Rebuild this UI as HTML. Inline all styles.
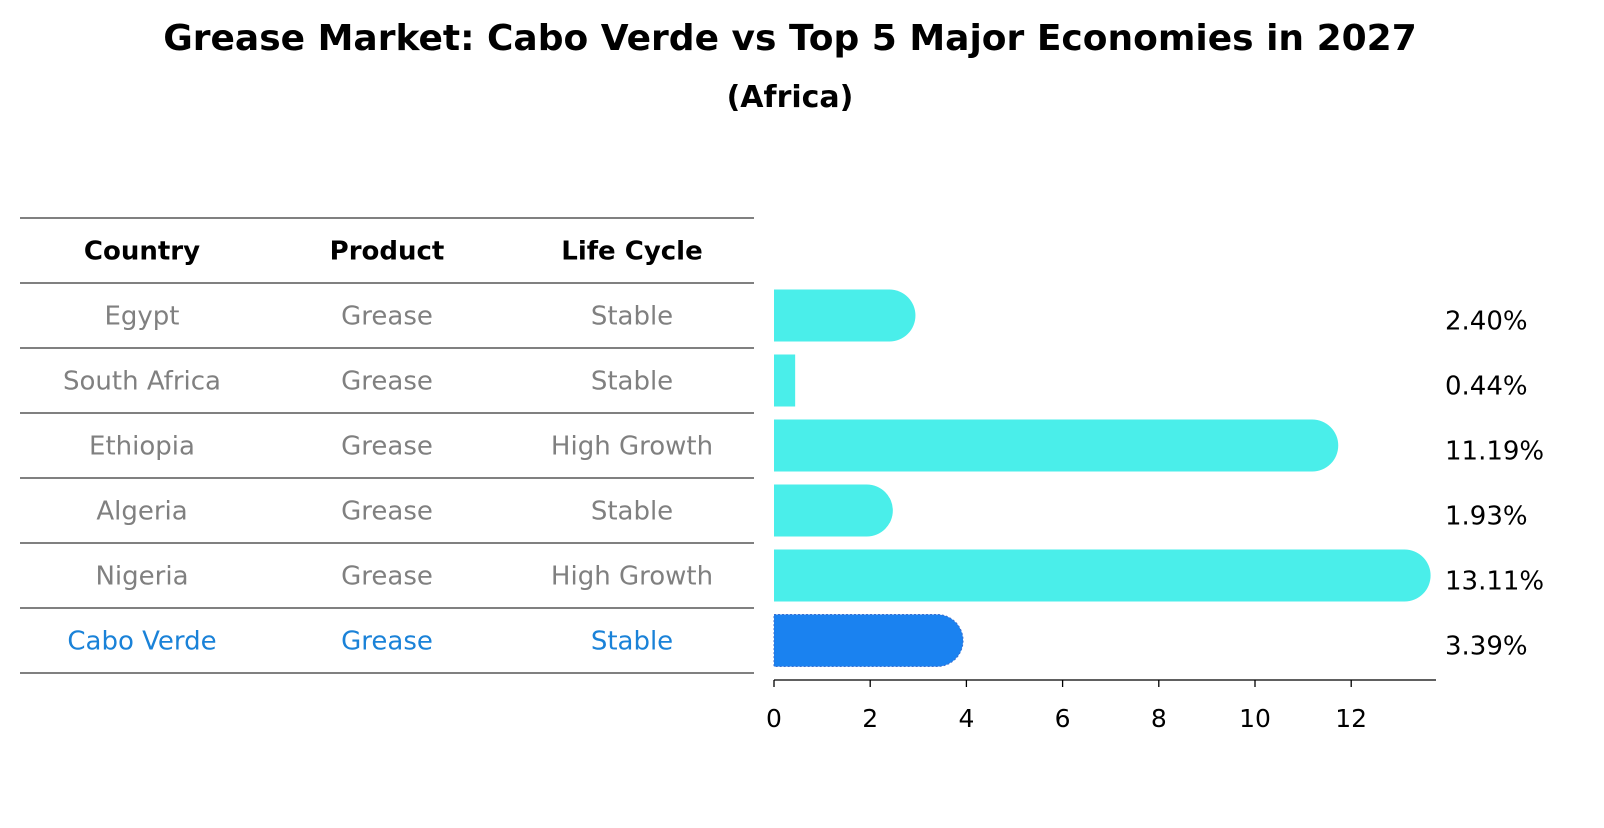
<!DOCTYPE html>
<html><head><meta charset="utf-8"><style>
body{margin:0;background:#fff;font-family:"Liberation Sans","DejaVu Sans",sans-serif}
</style></head><body>
<svg width="1604" height="823" xmlns="http://www.w3.org/2000/svg" font-family="DejaVu Sans, Liberation Sans, sans-serif">
<text x="790" y="50" text-anchor="middle" font-size="36" font-weight="bold">Grease Market: Cabo Verde vs Top 5 Major Economies in 2027</text>
<text x="790" y="107" text-anchor="middle" font-size="30" font-weight="bold">(Africa)</text>
<g id="table"></g>
<g id="bars"></g>
</svg>
<script>
const countries=["Egypt","South Africa","Ethiopia","Algeria","Nigeria","Cabo Verde"];
const products=["Grease","Grease","Grease","Grease","Grease","Grease"];
const lifeCycles=["Stable","Stable","High Growth","Stable","High Growth","Stable"];
const values=[2.40,0.44,11.19,1.93,13.11,3.39];
const ticks=[0,2,4,6,8,10,12];
const NS="http://www.w3.org/2000/svg";
function mk(t,a,p){const e=document.createElementNS(NS,t);for(const k in a)e.setAttribute(k,a[k]);p.appendChild(e);return e;}
const tbl=document.getElementById('table'),bars=document.getElementById('bars');
const top0=218,rowH=65,cols=[142,387,632];
function rowY(i){return top0+rowH*(i+1);}
function x(v){return 774+v*48.1;}
["Country","Product","Life Cycle"].forEach((h,j)=>{const t=mk('text',{x:cols[j],y:top0+rowH/2+9,'text-anchor':'middle','font-size':26,'font-weight':'bold'},tbl);t.textContent=h;

});
for(let i=0;i<=countries.length+1;i++){const l=mk('line',{x1:20,x2:754,y1:top0+rowH*i,y2:top0+rowH*i,stroke:'#000','stroke-width':1},tbl);

}
countries.forEach((c,i)=>{
  const hl=i===countries.length-1;const col=hl?'#1a82d8':'#808080';
  const cy=rowY(i)+rowH/2;
  [c,products[i],lifeCycles[i]].forEach((s,j)=>{const t=mk('text',{x:cols[j],y:cy+9,'text-anchor':'middle','font-size':26,fill:col},tbl);t.textContent=s;
  
  });
  const bh=52,y0=cy-bh/2,x0=x(0),x1=x(values[i]),r=bh/2;
  let d=`M${x0},${y0}H${x1}`;
  if(values[i]>=1)d+=`A${r},${r} 0 0 1 ${x1},${y0+bh}`;else d+=`V${y0+bh}`;
  d+=`H${x0}Z`;
  const p=mk('path',{d:d,fill:hl?'#1a82f0':'#4aeeea'},bars);
  if(hl){p.setAttribute('stroke','#3a6fd0');p.setAttribute('stroke-dasharray','2 2');}
  
  
  const t=mk('text',{x:1445,y:cy+14,'font-size':26},bars);t.textContent=values[i].toFixed(2)+'%';
  
  
});
const ax=mk('line',{x1:774,x2:1436,y1:680,y2:680,stroke:'#000','stroke-width':1.3},bars);


ticks.forEach(v=>{const l=mk('line',{x1:x(v),x2:x(v),y1:680,y2:687,stroke:'#000','stroke-width':1.3},bars);


const t=mk('text',{x:x(v),y:727,'text-anchor':'middle','font-size':25},bars);t.textContent=v;

});
</script>
</body></html>
